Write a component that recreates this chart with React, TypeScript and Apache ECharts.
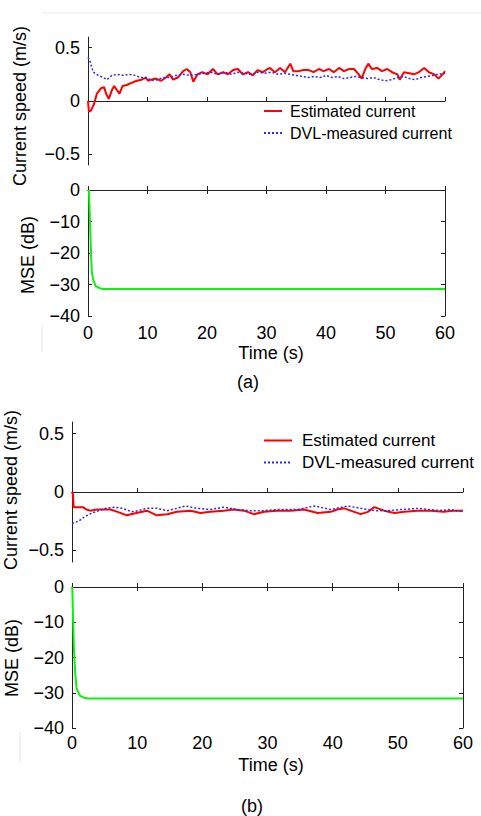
import React, { useEffect, useRef } from "react";
import * as echarts from "echarts";

const TIME_MIN = 0;
const TIME_MAX = 60;
const TIME_STEP = 10;
const SPEED_TICKS = [-0.5, 0, 0.5];
const MSE_MIN = -40;
const MSE_MAX = 0;
const MSE_STEP = 10;

const SERIES_EST = "Estimated current";
const SERIES_DVL = "DVL-measured current";

// Panel (a): [time s, speed m/s]
const A_EST: number[][] = [
  [0, 0], [0.15, -0.1], [0.5, -0.09], [1.0, -0.03], [1.5, 0.07], [2.2, 0.12], [2.7, 0.13],
  [3.1, 0.06], [3.5, 0.02], [4.0, 0.1], [4.4, 0.14], [4.9, 0.1], [5.3, 0.07], [5.8, 0.14],
  [6.5, 0.15], [7.3, 0.17], [8.2, 0.19], [9.0, 0.2], [9.7, 0.22], [10.1, 0.19], [10.6, 0.2],
  [11.4, 0.21], [12.3, 0.19], [13.1, 0.22], [13.7, 0.25], [14.3, 0.2], [15.1, 0.22], [16.0, 0.28],
  [16.6, 0.3], [17.2, 0.27], [17.7, 0.18], [18.4, 0.25], [19.2, 0.27], [20.1, 0.25], [21.0, 0.3],
  [21.8, 0.25], [22.7, 0.27], [23.5, 0.25], [24.4, 0.29], [25.2, 0.3], [26.0, 0.25], [26.9, 0.27],
  [27.7, 0.24], [28.5, 0.29], [29.4, 0.27], [30.2, 0.3], [30.6, 0.31], [31.4, 0.27], [32.3, 0.31],
  [33.1, 0.27], [34.0, 0.35], [34.5, 0.28], [35.4, 0.28], [36.2, 0.29], [37.1, 0.29], [37.9, 0.27],
  [38.8, 0.3], [39.6, 0.28], [40.5, 0.3], [41.3, 0.27], [42.2, 0.31], [43.0, 0.28], [43.9, 0.3],
  [44.7, 0.3], [45.5, 0.25], [46.0, 0.21], [46.6, 0.3], [47.1, 0.35], [47.7, 0.3], [48.6, 0.31],
  [49.4, 0.28], [50.3, 0.3], [51.1, 0.27], [52.0, 0.25], [52.4, 0.2], [53.1, 0.27], [54.0, 0.26],
  [54.8, 0.25], [55.6, 0.27], [56.5, 0.31], [57.3, 0.27], [58.2, 0.25], [58.9, 0.21], [59.6, 0.25],
  [60, 0.28],
];
const A_DVL: number[][] = [
  [0, 0.41], [0.3, 0.38], [0.6, 0.32], [0.9, 0.27], [1.7, 0.24], [2.6, 0.22], [3.2, 0.2],
  [4.0, 0.24], [4.9, 0.25], [6, 0.24], [6.9, 0.25], [8, 0.24], [8.8, 0.22], [10, 0.22],
  [10.6, 0.19], [11.7, 0.2], [12.6, 0.22], [13.7, 0.22], [14.8, 0.24], [16, 0.25], [17.2, 0.24],
  [18.4, 0.25], [19.5, 0.26], [20.6, 0.27], [21.8, 0.25], [23, 0.27], [24.1, 0.25], [25.2, 0.27],
  [26.3, 0.26], [27.4, 0.25], [28.6, 0.27], [29.7, 0.26], [30.8, 0.27], [32, 0.25], [33, 0.26],
  [34, 0.25], [35, 0.24], [36, 0.23], [37, 0.22], [38, 0.23], [39, 0.22], [40, 0.24], [41, 0.22],
  [42, 0.23], [43, 0.21], [44, 0.22], [45, 0.23], [46, 0.22], [47, 0.21], [48, 0.22], [49, 0.2],
  [50, 0.19], [51, 0.2], [52, 0.22], [53, 0.23], [54, 0.21], [55, 0.2], [56, 0.22], [57, 0.23],
  [58, 0.24], [59, 0.25], [60, 0.26],
];
const A_MSE: number[][] = [
  [0.15, 0], [0.3, -8], [0.45, -16.5], [0.55, -22.5], [0.65, -26], [0.9, -28.6], [1.3, -30.5],
  [2.0, -31.2], [2.5, -31.4], [60, -31.4],
];

// Panel (b)
const B_EST: number[][] = [
  [0, 0], [0.15, -0.02], [0.25, -0.13], [1.0, -0.13], [1.7, -0.13], [2.2, -0.15], [2.8, -0.16],
  [3.8, -0.15], [5.0, -0.15], [5.9, -0.15], [7.0, -0.17], [8.4, -0.2], [9.9, -0.18], [11.5, -0.16],
  [13.0, -0.2], [14.6, -0.19], [16.1, -0.17], [18.2, -0.16], [19.7, -0.18], [21.2, -0.17],
  [23.3, -0.16], [24.8, -0.15], [26.4, -0.16], [27.9, -0.19], [29.5, -0.17], [31.5, -0.16],
  [33.6, -0.16], [35.6, -0.15], [37.7, -0.18], [39.7, -0.17], [40.7, -0.15], [41.8, -0.14],
  [43.3, -0.17], [44.3, -0.19], [45.4, -0.17], [46.4, -0.13], [47.9, -0.16], [49.5, -0.18],
  [51, -0.17], [53, -0.16], [55, -0.16], [57, -0.17], [58.5, -0.16], [60, -0.16],
];
const B_DVL: number[][] = [
  [0, -0.27], [1, -0.25], [2, -0.21], [3.1, -0.18], [4.1, -0.16], [5.1, -0.14], [6.6, -0.13],
  [7.7, -0.14], [9.2, -0.17], [10.2, -0.16], [11.5, -0.14], [13, -0.14], [14.6, -0.16],
  [16.1, -0.14], [17.4, -0.12], [19.2, -0.14], [21.2, -0.15], [23.3, -0.13], [25.3, -0.15],
  [27.4, -0.16], [29.5, -0.16], [31.5, -0.15], [34.6, -0.15], [37.2, -0.12], [39.7, -0.15],
  [42.3, -0.12], [44.3, -0.14], [46.4, -0.16], [48.5, -0.16], [50.5, -0.15], [53.2, -0.14],
  [56.3, -0.16], [58, -0.15], [60, -0.17],
];
const B_MSE: number[][] = [
  [0.05, 0], [0.15, -8], [0.3, -17.8], [0.5, -24.5], [0.7, -28.8], [1.2, -30.8], [2.0, -31.5],
  [2.5, -31.6], [60, -31.6],
];

const FONT = "'Liberation Sans', Arial, sans-serif";
const AXIS_COLOR = "#222";
const RED = "#ff0000";
const BLUE = "#2a2aff";
const GREEN = "#11ee11";

const fmt = (v: number) => (v < 0 ? "\u2212" + String(Math.abs(v)) : String(v));

function xAxisFor(gridIndex: number, opts: { labels: boolean; position?: string; margin?: number }) {
  return {
    type: "value",
    gridIndex,
    min: TIME_MIN,
    max: TIME_MAX,
    interval: TIME_STEP,
    position: opts.position || "bottom",
    splitLine: { show: false },
    axisLine: { show: true, lineStyle: { color: AXIS_COLOR, width: 1 } },
    axisTick: { show: true, inside: true, length: 4, lineStyle: { color: AXIS_COLOR } },
    axisLabel: {
      show: opts.labels,
      fontSize: 18,
      fontFamily: FONT,
      color: "#000",
      margin: opts.margin ?? 8,
    },
  };
}

function speedY(gridIndex: number) {
  return {
    type: "value",
    gridIndex,
    min: -0.6,
    max: 0.6,
    splitLine: { show: false },
    axisLine: { show: true, lineStyle: { color: AXIS_COLOR, width: 1 } },
    axisTick: { show: true, inside: true, length: 4, customValues: SPEED_TICKS, lineStyle: { color: AXIS_COLOR } },
    axisLabel: {
      show: true,
      customValues: SPEED_TICKS,
      formatter: (v: number) => fmt(v),
      fontSize: 18,
      fontFamily: FONT,
      color: "#000",
      margin: 8,
    },
  };
}

function mseY(gridIndex: number, position: string, labels: boolean) {
  return {
    type: "value",
    gridIndex,
    position,
    min: MSE_MIN,
    max: MSE_MAX,
    interval: MSE_STEP,
    splitLine: { show: false },
    axisLine: { show: true, onZero: false, lineStyle: { color: AXIS_COLOR, width: 1 } },
    axisTick: { show: true, inside: true, length: 4, lineStyle: { color: AXIS_COLOR } },
    axisLabel: {
      show: labels,
      formatter: (v: number) => fmt(v),
      fontSize: 18,
      fontFamily: FONT,
      color: "#000",
      margin: 8,
    },
  };
}

function rotText(text: string, x: number, y: number) {
  return {
    type: "text",
    x,
    y,
    rotation: Math.PI / 2,
    style: { text, fill: "#000", font: `18px ${FONT}`, textAlign: "center", textVerticalAlign: "middle" },
    silent: true,
  };
}
function plainText(text: string, x: number, y: number) {
  return {
    type: "text",
    x,
    y,
    style: { text, fill: "#000", font: `18px ${FONT}`, textAlign: "center", textVerticalAlign: "middle" },
    silent: true,
  };
}

export default function App() {
  const ref = useRef<HTMLDivElement>(null);
  useEffect(() => {
    if (!ref.current) return;
    const chart = echarts.init(ref.current, null, { renderer: "svg" });
    const estStyle = { color: RED, width: 2 };
    const dvlStyle = { color: BLUE, width: 1.5, type: [2, 2] as any };
    const option: any = {
      animation: false,
      backgroundColor: "#fff",
      grid: [
        { left: 88, top: 37, width: 357, height: 128 },
        { left: 88, top: 190, width: 357, height: 126 },
        { left: 72, top: 422, width: 391, height: 140 },
        { left: 72, top: 587, width: 391, height: 141 },
      ],
      xAxis: [
        xAxisFor(0, { labels: false }),
        xAxisFor(1, { labels: true, margin: 8 }),
        xAxisFor(2, { labels: false }),
        xAxisFor(3, { labels: true, margin: 6 }),
        xAxisFor(1, { labels: false, position: "top" }),
        xAxisFor(3, { labels: false, position: "top" }),
      ],
      yAxis: [
        speedY(0),
        mseY(1, "left", true),
        speedY(2),
        mseY(3, "left", true),
        mseY(1, "right", false),
        mseY(3, "right", false),
      ],
      legend: [
        {
          orient: "vertical",
          left: 263,
          top: 103,
          itemWidth: 18,
          itemHeight: 14,
          itemGap: 6,
          padding: 0,
          itemStyle: { opacity: 0 },
          data: [SERIES_EST, SERIES_DVL],
          textStyle: { fontSize: 16, fontFamily: FONT, color: "#000", padding: [0, 0, 0, 3] },
        },
        {
          orient: "vertical",
          left: 263,
          top: 432,
          itemWidth: 28,
          itemHeight: 14,
          itemGap: 5,
          padding: 0,
          itemStyle: { opacity: 0 },
          data: [SERIES_EST, SERIES_DVL],
          textStyle: { fontSize: 17, fontFamily: FONT, color: "#000", padding: [0, 0, 0, 5] },
        },
      ],
      series: [
        { name: SERIES_EST, type: "line", xAxisIndex: 0, yAxisIndex: 0, data: A_EST, showSymbol: false, symbol: "none", lineStyle: estStyle, itemStyle: { color: RED } },
        { name: SERIES_DVL, type: "line", xAxisIndex: 0, yAxisIndex: 0, data: A_DVL, showSymbol: false, symbol: "none", lineStyle: dvlStyle, itemStyle: { color: BLUE } },
        { name: "MSE (a)", type: "line", xAxisIndex: 1, yAxisIndex: 1, data: A_MSE, showSymbol: false, symbol: "none", lineStyle: { color: GREEN, width: 2 } },
        { name: SERIES_EST, type: "line", xAxisIndex: 2, yAxisIndex: 2, data: B_EST, showSymbol: false, symbol: "none", lineStyle: estStyle, itemStyle: { color: RED } },
        { name: SERIES_DVL, type: "line", xAxisIndex: 2, yAxisIndex: 2, data: B_DVL, showSymbol: false, symbol: "none", lineStyle: dvlStyle, itemStyle: { color: BLUE } },
        { name: "MSE (b)", type: "line", xAxisIndex: 3, yAxisIndex: 3, data: B_MSE, showSymbol: false, symbol: "none", lineStyle: { color: GREEN, width: 2 } },
      ],
      graphic: [
        { type: "line", shape: { x1: 42, y1: 13, x2: 481, y2: 13 }, style: { stroke: "#ececec", lineWidth: 1 }, silent: true },
        { type: "line", shape: { x1: 42, y1: 325, x2: 42, y2: 352 }, style: { stroke: "#e4e4e4", lineWidth: 1 }, silent: true },
        { type: "line", shape: { x1: 20, y1: 732, x2: 20, y2: 763 }, style: { stroke: "#e4e4e4", lineWidth: 1 }, silent: true },
        rotText("Current speed (m/s)", 20, 106),
        rotText("MSE (dB)", 28, 255),
        plainText("Time (s)", 271, 353),
        plainText("(a)", 248, 382),
        rotText("Current speed (m/s)", 11, 490),
        rotText("MSE (dB)", 12, 658),
        plainText("Time (s)", 271, 765),
        plainText("(b)", 252, 806),
      ],
    };
    chart.setOption(option);
    return () => chart.dispose();
  }, []);
  return (
    <div
      ref={ref}
      style={{ position: "fixed", left: 0, top: 0, width: 481, height: 816, background: "#fff" }}
    />
  );
}
